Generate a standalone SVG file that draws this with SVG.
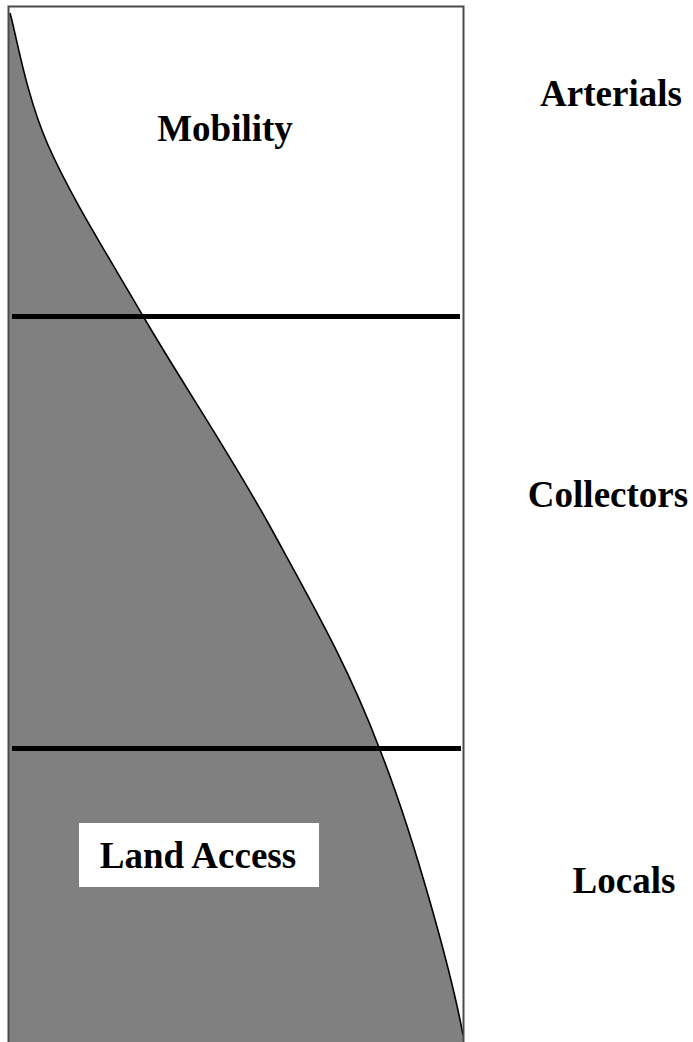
<svg xmlns="http://www.w3.org/2000/svg" width="693" height="1042" viewBox="0 0 693 1042">
<style>
.lbl{font-family:"Liberation Serif","Times New Roman",serif;font-weight:bold;font-size:37px;fill:#000;text-anchor:middle}
.sep{stroke:#000;stroke-width:5}
</style>
<defs>
<path id="curve" d="M10,13 C16.33,35 25.83,94.5 48,145 C70.17,195.5 105.67,251.83 143,316 C180.33,380.17 232.5,457.67 272,530 C311.5,602.33 348.17,665.83 380,750 C414,836 452,975 463,1035"/>
</defs>
<rect x="0" y="0" width="693" height="1042" fill="#fff"/>
<g id="area">
<path d="M10,13 C16.33,35 25.83,94.5 48,145 C70.17,195.5 105.67,251.83 143,316 C180.33,380.17 232.5,457.67 272,530 C311.5,602.33 348.17,665.83 380,750 C414,836 452,975 463,1035 L463,1042 L9,1042 L9,13 Z" fill="#808080" stroke="none"/>
<use href="#curve" fill="none" stroke="#000" stroke-width="1.6"/>
</g>
<g id="frame">
<rect x="8.5" y="6.5" width="455" height="1045" fill="none" stroke="#4a4a4a" stroke-width="2"/>
</g>
<g id="connectors">
<line class="sep" x1="12" y1="316.5" x2="460" y2="316.5"/>
<line class="sep" x1="12" y1="748.5" x2="461" y2="748.5"/>
</g>
<g id="mobility"><text class="lbl" x="225" y="141">Mobility</text></g>
<g id="land-access">
<rect x="79" y="823" width="240" height="64" fill="#fff"/>
<text class="lbl" x="198" y="868">Land Access</text>
</g>
<g id="arterials"><text class="lbl" x="611" y="106">Arterials</text></g>
<g id="collectors"><text class="lbl" x="608" y="507">Collectors</text></g>
<g id="locals"><text class="lbl" x="624" y="893">Locals</text></g>
</svg>
